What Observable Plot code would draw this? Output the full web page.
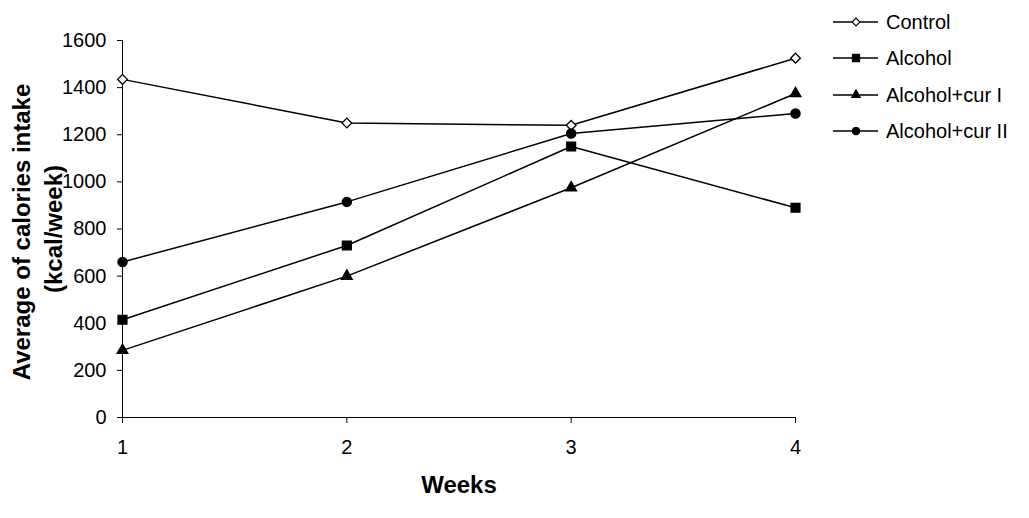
<!DOCTYPE html>
<html>
<head>
<meta charset="utf-8">
<script src="https://cdn.jsdelivr.net/npm/d3@7"></script>
<script src="https://cdn.jsdelivr.net/npm/@observablehq/plot@0.6"></script>
<style>
  body { margin: 0; background: #fff; }
  #wrap { position: relative; width: 1029px; height: 518px; font-family: "Liberation Sans", Arial, sans-serif; }
  #legend { position: absolute; left: 820px; top: 0px; }
</style>
</head>
<body>
<div id="wrap"></div>
<script>
const weeks = [1, 2, 3, 4];
const seriesNames = ["Control", "Alcohol", "Alcohol+cur I", "Alcohol+cur II"];
const control = [1435, 1250, 1240, 1525];
const alcohol = [415, 730, 1150, 890];
const curI = [285, 600, 975, 1375];
const curII = [660, 915, 1205, 1290];
const yTicks = [0, 200, 400, 600, 800, 1000, 1200, 1400, 1600];

const seriesValues = [control, alcohol, curI, curII];
const symbols = ["diamond2", "square", "triangle", "circle"];
const fills = ["white", "black", "black", "black"];
const radii = [4.4, 5.0, 4.0, 4.6];

const data = [];
seriesNames.forEach((s, i) => weeks.forEach((w, j) => data.push({series: s, week: w, value: seriesValues[i][j]})));

const font = "Liberation Sans, Arial, sans-serif";

const marks = [
  Plot.ruleX([1], {y1: 0, y2: 1600, stroke: "black", strokeWidth: 1}),
  Plot.ruleY([0], {x1: 1, x2: 4, stroke: "black", strokeWidth: 1}),
  Plot.axisY({ticks: yTicks, tickSize: 5, tickPadding: 11, label: null, fontSize: 20, tickFormat: d3.format("d")}),
  Plot.axisX({ticks: weeks, tickSize: 6, tickPadding: 16, label: null, fontSize: 20, tickFormat: d3.format("d")}),
  Plot.line(data, {x: "week", y: "value", z: "series", stroke: "black", strokeWidth: 1.5}),
];
seriesNames.forEach((s, i) => {
  marks.push(Plot.dot(data.filter(d => d.series === s), {
    x: "week", y: "value", symbol: () => symbols[i], r: radii[i],
    fill: fills[i], stroke: "black", strokeWidth: 1.3
  }));
});
marks.push(
  Plot.text(["Average of calories intake"], {frameAnchor: "left", dx: -100, dy: 3, rotate: -90, fontSize: 24, fontWeight: "bold", textAnchor: "middle", fill: "black"}),
  Plot.text(["(kcal/week)"], {frameAnchor: "left", dx: -68, dy: 0, rotate: -90, fontSize: 24, fontWeight: "bold", textAnchor: "middle", fill: "black"}),
  Plot.text(["Weeks"], {frameAnchor: "bottom", dy: 75, fontSize: 24, fontWeight: "bold", textAnchor: "middle", fill: "black"})
);

const chart = Plot.plot({
  width: 1029,
  height: 518,
  marginLeft: 122,
  marginRight: 234,
  marginTop: 40,
  marginBottom: 101,
  style: {fontFamily: font, color: "black", background: "white", overflow: "visible"},
  x: {domain: [1, 4]},
  y: {domain: [0, 1600]},
  symbol: {type: "identity"},
  marks
});
document.getElementById("wrap").appendChild(chart);

// Legend
const rowY = [22, 58, 95, 131];
const lg = d3.select("#wrap").append("svg").attr("id", "legend")
  .attr("width", 209).attr("height", 160)
  .style("font-family", font);
const symMap = {diamond2: d3.symbolDiamond2, square: d3.symbolSquare, triangle: d3.symbolTriangle, circle: d3.symbolCircle};
seriesNames.forEach((s, i) => {
  const g = lg.append("g").attr("transform", `translate(0,${rowY[i]})`);
  g.append("line").attr("x1", 13).attr("x2", 58).attr("y1", 0).attr("y2", 0)
    .attr("stroke", "black").attr("stroke-width", 1.5);
  const size = Math.PI * (radii[i] * 0.8) ** 2;
  g.append("path").attr("d", d3.symbol(symMap[symbols[i]], size)())
    .attr("transform", "translate(36,0)")
    .attr("fill", fills[i]).attr("stroke", "black").attr("stroke-width", 1.2);
  g.append("text").attr("x", 66).attr("y", 0).attr("dy", "0.35em")
    .attr("font-size", 20).attr("fill", "black").text(s);
});
</script>
</body>
</html>
